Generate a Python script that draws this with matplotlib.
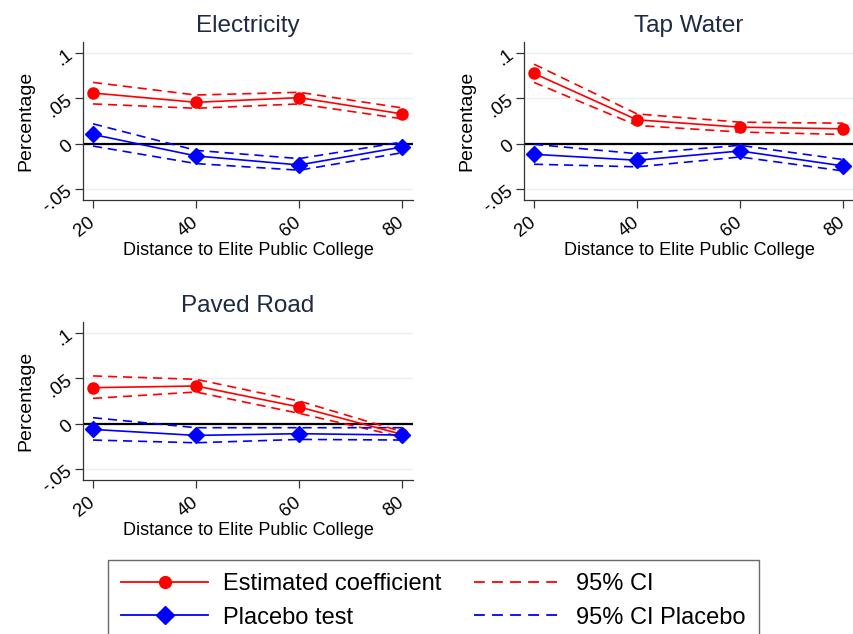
import matplotlib
matplotlib.use("Agg")
import matplotlib.pyplot as plt
from matplotlib.lines import Line2D

plt.rcParams['font.family'] = ['Liberation Sans', 'DejaVu Sans']

distance = [20, 40, 60, 80]
panels = ["Electricity", "Tap Water", "Paved Road"]

est = {
    "Electricity": [0.0558, 0.0456, 0.0507, 0.0328],
    "Tap Water":   [0.0774, 0.0263, 0.0182, 0.0164],
    "Paved Road":  [0.0397, 0.0415, 0.0184, -0.0118],
}
est_hi = {
    "Electricity": [0.0675, 0.0536, 0.0566, 0.0394],
    "Tap Water":   [0.0876, 0.0328, 0.0237, 0.0226],
    "Paved Road":  [0.0526, 0.0489, 0.0250, -0.0088],
}
est_lo = {
    "Electricity": [0.0438, 0.0390, 0.0438, 0.0274],
    "Tap Water":   [0.0675, 0.0201, 0.0128, 0.0102],
    "Paved Road":  [0.0279, 0.0349, 0.0114, -0.0147],
}
plac = {
    "Electricity": [0.0102, -0.0135, -0.0234, -0.0036],
    "Tap Water":   [-0.0117, -0.0182, -0.0080, -0.0245],
    "Paved Road":  [-0.0063, -0.0129, -0.0110, -0.0125],
}
plac_hi = {
    "Electricity": [0.0219, -0.0073, -0.0164, 0.0018],
    "Tap Water":   [-0.0007, -0.0110, -0.0018, -0.0175],
    "Paved Road":  [0.0066, -0.0044, -0.0044, -0.0044],
}
plac_lo = {
    "Electricity": [-0.0026, -0.0219, -0.0292, -0.0099],
    "Tap Water":   [-0.0226, -0.0255, -0.0146, -0.0300],
    "Paved Road":  [-0.0180, -0.0210, -0.0173, -0.0180],
}
yticks = [-0.05, 0, 0.05, 0.1]
yticklabels = ["-.05", "0", ".05", ".1"]
legend_labels = ["Estimated coefficient", "95% CI", "Placebo test", "95% CI Placebo"]

W, H = 854, 634
fig = plt.figure(figsize=(W / 100, H / 100), dpi=100)

def rect(left, top, right, bottom):
    return [left / W, 1 - bottom / H, (right - left) / W, (bottom - top) / H]

rects = {
    "Electricity": rect(83, 42, 413, 200),
    "Tap Water": rect(524, 42, 854, 200),
    "Paved Road": rect(83, 322, 413, 480),
}

RED = "#ff0000"
BLUE = "#0000ff"
GRID = "#e6eff1"
TITLE_C = "#1c2a44"
dash = (0, (5.5, 3.5))

for name in panels:
    ax = fig.add_axes(rects[name])
    for y in yticks:
        ax.axhline(y, color=GRID, lw=1.0, zorder=0)
    ax.axhline(0, color="black", lw=1.6, zorder=1)
    ax.plot(distance, est_hi[name], color=RED, lw=1.2, linestyle=dash, zorder=2)
    ax.plot(distance, est_lo[name], color=RED, lw=1.2, linestyle=dash, zorder=2)
    ax.plot(distance, plac_hi[name], color=BLUE, lw=1.2, linestyle=dash, zorder=2)
    ax.plot(distance, plac_lo[name], color=BLUE, lw=1.2, linestyle=dash, zorder=2)
    ax.plot(distance, est[name], color=RED, lw=1.2, marker="o", markersize=8, zorder=3)
    ax.plot(distance, plac[name], color=BLUE, lw=1.2, marker="D", markersize=8, zorder=3)
    ax.set_xlim(18.06, 82.1)
    ax.set_ylim(-0.062, 0.112)
    ax.set_yticks(yticks)
    ax.set_yticklabels(yticklabels, rotation=38, ha="right", va="center",
                       rotation_mode="anchor")
    ax.set_xticks(distance)
    ax.set_xticklabels([str(d) for d in distance], rotation=38, ha="right",
                       va="center", rotation_mode="anchor")
    ax.tick_params(axis="both", labelsize=13.5, length=6, width=0.9, color="#333333",
                   pad=3)
    ax.tick_params(axis="x", pad=9)
    for s in ["top", "right"]:
        ax.spines[s].set_visible(False)
    for s in ["left", "bottom"]:
        ax.spines[s].set_color("#333333")
        ax.spines[s].set_linewidth(0.9)
    ax.set_title(name, fontsize=17.5, color=TITLE_C, pad=7)
    ax.set_ylabel("Percentage", fontsize=14, labelpad=4)
    ax.set_xlabel("Distance to Elite Public College", fontsize=13, labelpad=1)

handles = [
    Line2D([], [], color=RED, lw=1.3, marker="o", markersize=8.5),
    Line2D([], [], color=RED, lw=1.3, linestyle=(0, (6, 4))),
    Line2D([], [], color=BLUE, lw=1.3, marker="D", markersize=9),
    Line2D([], [], color=BLUE, lw=1.3, linestyle=(0, (6, 4))),
]
order = [0, 2, 1, 3]
leg = fig.legend([handles[i] for i in order], [legend_labels[i] for i in order],
                 ncol=2, loc="upper left", bbox_to_anchor=(108 / W, 1 - 560 / H),
                 fontsize=17, frameon=True, fancybox=False, handlelength=3.67,
                 handletextpad=0.63, columnspacing=1.4, borderpad=0.57,
                 labelspacing=0.47, borderaxespad=0)
leg.get_frame().set_edgecolor("#444444")
leg.get_frame().set_linewidth(1.0)

fig.savefig("out.png", dpi=100)
